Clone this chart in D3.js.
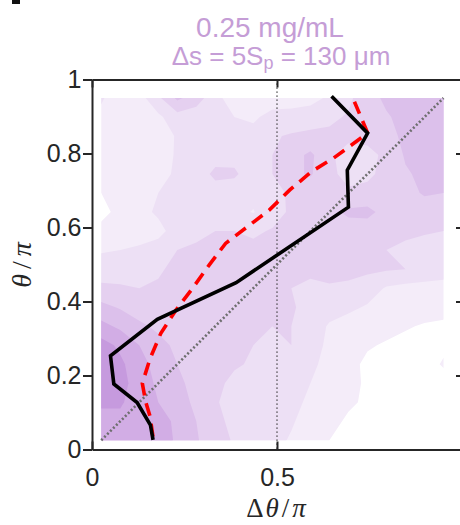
<!DOCTYPE html>
<html><head><meta charset="utf-8">
<script src="https://cdn.jsdelivr.net/npm/d3@7"></script>
<style>html,body{margin:0;padding:0;background:#fff}svg{display:block}</style>
</head><body>
<svg id="chart" width="460" height="525"></svg>
<script>
// ---------------- data ----------------
const xTicks = [0, 0.5, 1];
const xTickLabels = ["0", "0.5", ""];
const yTicks = [0, 0.2, 0.4, 0.6, 0.8, 1];
const yTickLabels = ["0", "0.2", "0.4", "0.6", "0.8", "1"];

// density grid (rows top -> bottom, y = 0.95 ... 0.025; cols x = 0.025 ... 0.95)
const gridExtent = [0.025, 0.95];
const densityRows = [
  [2.1,1.5,1.6,2.8,4.2,3.5,2.3,1.5,1.3,1.7,1.5,1.6,2.2,2.8,3.6,4.2,4.4,4.5,4.5],
  [1.8,1.3,1.4,1.8,2.6,2.4,2.1,2.0,1.9,2.2,2.4,2.6,2.8,3.1,3.4,3.9,4.3,4.5,4.5],
  [1.5,1.2,1.3,1.5,2.1,2.2,2.2,2.1,2.2,2.9,3.1,3.2,3.2,3.3,3.4,3.7,4.2,4.5,4.4],
  [1.4,1.2,1.3,1.6,2.1,2.2,2.5,2.6,2.2,3.0,3.6,4.2,3.2,2.5,2.6,3.3,4.1,4.4,4.3],
  [1.3,1.2,1.4,1.8,2.1,2.3,3.3,3.2,2.3,3.0,3.8,4.1,3.3,2.6,2.8,3.3,3.9,4.2,4.1],
  [1.0,1.3,1.7,2.0,2.2,2.3,2.4,2.3,2.2,2.6,3.2,3.4,3.3,3.2,3.3,3.4,3.7,4.1,4.0],
  [0.6,1.4,1.8,2.1,2.3,2.4,2.3,2.2,1.96,2.5,3.2,3.3,3.7,4.2,4.3,3.6,3.4,3.5,3.4],
  [1.4,1.5,1.7,1.8,2.3,2.7,3.0,3.0,2.8,3.1,3.2,3.3,3.4,3.5,3.4,3.3,3.2,3.1,3.0],
  [1.9,2.0,2.1,2.3,3.0,3.2,3.3,3.3,3.3,3.3,3.2,3.3,3.3,3.2,3.1,3.0,2.8,2.6,2.4],
  [2.5,2.6,2.7,2.9,3.2,3.3,3.3,3.3,3.2,3.1,3.0,3.2,3.3,3.3,3.2,3.1,3.0,2.8,2.5],
  [3.2,3.1,3.0,3.1,3.2,3.3,3.3,3.3,3.2,3.1,3.0,2.8,2.9,2.8,2.5,1.9,1.7,1.6,1.6],
  [4.3,3.9,3.5,3.4,3.3,3.3,3.3,3.2,3.1,3.0,3.1,2.7,2.4,2.2,1.9,1.6,1.5,1.5,1.4],
  [5.3,4.8,4.2,3.8,3.6,3.4,3.3,3.1,3.0,3.0,3.0,2.5,1.9,1.6,1.4,1.3,1.1,0.9,0.8],
  [6.4,5.8,5.0,4.3,3.8,3.5,3.3,3.1,3.0,2.9,3.0,2.4,1.8,1.4,1.1,0.9,0.7,0.6,0.9],
  [6.6,6.2,5.4,4.6,4.0,3.6,3.3,3.1,2.9,3.0,2.8,2.2,1.7,1.3,0.8,0.7,0.8,0.8,1.05],
  [6.6,6.3,5.6,4.8,4.2,3.7,3.2,2.8,2.5,2.7,2.5,2.0,1.6,1.2,0.9,0.8,0.9,0.9,0.8],
  [6.2,6.1,5.6,5.0,4.4,3.8,3.1,2.6,2.1,2.3,2.3,1.8,1.5,1.1,0.9,0.8,0.8,0.8,0.8],
  [5.6,5.8,5.8,5.6,4.7,4.0,3.3,2.7,2.2,2.2,2.1,1.6,1.2,0.9,0.7,0.6,0.5,0.5,0.5],
  [5.4,5.7,6.0,5.7,4.8,4.1,3.4,2.9,2.5,2.3,1.9,1.4,1.0,0.7,0.5,0.4,0.4,0.4,0.4]
];
const levels = [1, 2, 3, 4, 5, 6];
const levelColors = ["#f4ecf9", "#ede0f5", "#e5d0f0", "#dcc0eb", "#d2ade5", "#c69ade"];

// black solid curve
const meanX = [0.6475, 0.745, 0.690, 0.693, 0.3895, 0.1765, 0.050, 0.059, 0.122, 0.158, 0.165];
const meanY = [0.955, 0.855, 0.755, 0.655, 0.451, 0.352, 0.253, 0.177, 0.127, 0.066, 0.026];

// red dashed curve
const fitX = [0.703, 0.745, 0.652, 0.593, 0.534, 0.479, 0.420, 0.361, 0.317, 0.272, 0.227, 0.186, 0.157, 0.136, 0.145, 0.157, 0.166];
const fitY = [0.955, 0.855, 0.787, 0.751, 0.701, 0.647, 0.602, 0.557, 0.499, 0.436, 0.377, 0.314, 0.246, 0.179, 0.129, 0.089, 0.026];

// reference lines
const diagX = [0.025, 0.95];
const diagY = [0.025, 0.95];
const vlineX = 0.5;

const titleLine1 = "0.25 mg/mL";

// ---------------- drawing ----------------
const svg = d3.select("#chart");
const x = d3.scaleLinear().domain([0, 1]).range([92, 462]);
const y = d3.scaleLinear().domain([0, 1]).range([449.5, 79.5]);

const nCols = densityRows[0].length, nRows = densityRows.length;
const values = densityRows.flat();
const gx = d3.scaleLinear().domain([0.5, nCols - 0.5]).range([x(gridExtent[0]), x(gridExtent[1])]);
const gy = d3.scaleLinear().domain([0.5, nRows - 0.5]).range([y(gridExtent[1]), y(gridExtent[0])]);

svg.append("defs").append("clipPath").attr("id", "gclip")
  .append("rect")
  .attr("x", x(gridExtent[0])).attr("y", y(gridExtent[1]))
  .attr("width", x(gridExtent[1]) - x(gridExtent[0]))
  .attr("height", y(gridExtent[0]) - y(gridExtent[1]));

const contours = d3.contours().size([nCols, nRows]).thresholds(levels)(values);
const proj = d3.geoTransform({ point(px, py) { this.stream.point(gx(px), gy(py)); } });
const path = d3.geoPath(proj);

svg.append("g").attr("clip-path", "url(#gclip)")
  .selectAll("path").data(contours).join("path")
  .attr("d", path)
  .attr("fill", (d, i) => levelColors[i])
  .attr("stroke", "none");

// vertical dotted line at 0.5
svg.append("line")
  .attr("x1", x(vlineX)).attr("x2", x(vlineX))
  .attr("y1", y(1)).attr("y2", y(0))
  .attr("stroke", "#333").attr("stroke-width", 1.3)
  .attr("stroke-dasharray", "1.3,2.7");

// diagonal gray dotted
const line = d3.line().x(d => x(d[0])).y(d => y(d[1]));
svg.append("path")
  .attr("d", line(diagX.map((v, i) => [v, diagY[i]])))
  .attr("fill", "none").attr("stroke", "#6e6e6e").attr("stroke-width", 2.6)
  .attr("stroke-dasharray", "2,2.2");

// red dashed
svg.append("path")
  .attr("d", line(fitX.map((v, i) => [v, fitY[i]])))
  .attr("fill", "none").attr("stroke", "#ff0000").attr("stroke-width", 3.6)
  .attr("stroke-dasharray", "13,8").attr("stroke-dashoffset", -6);

// black solid
svg.append("path")
  .attr("d", line(meanX.map((v, i) => [v, meanY[i]])))
  .attr("fill", "none").attr("stroke", "#000").attr("stroke-width", 3.6)
  .attr("stroke-linejoin", "miter");

// axes
const axisColor = "#262626";
const fontTicks = "'Liberation Sans', Arial, Helvetica, sans-serif";
function styleAxis(g) {
  g.selectAll(".domain").attr("stroke", axisColor).attr("stroke-width", 2);
  g.selectAll(".tick line").attr("stroke", axisColor).attr("stroke-width", 2);
  g.selectAll(".tick text").attr("fill", "#262626").style("font-family", fontTicks).style("font-size", "25px");
}
svg.append("g").attr("transform", `translate(0,${y(0)})`)
  .call(d3.axisBottom(x).tickValues(xTicks).tickFormat((d, i) => xTickLabels[i])
    .tickSizeInner(-8).tickSizeOuter(0).tickPadding(18.5))
  .call(styleAxis);
svg.append("g").attr("transform", `translate(0,${y(1)})`)
  .call(d3.axisTop(x).tickValues(xTicks).tickFormat(() => "")
    .tickSizeInner(-8).tickSizeOuter(0))
  .call(styleAxis);
svg.append("g").attr("transform", `translate(${x(0)},0)`)
  .call(d3.axisLeft(y).tickValues(yTicks).tickFormat((d, i) => yTickLabels[i])
    .tickSizeInner(9).tickSizeOuter(0).tickPadding(1.5))
  .call(styleAxis);
svg.append("g").attr("transform", `translate(${x(1)},0)`)
  .call(d3.axisRight(y).tickValues(yTicks).tickFormat(() => "")
    .tickSizeInner(-6).tickSizeOuter(0))
  .call(styleAxis);
svg.selectAll(".domain").attr("fill", "none");

// axis labels
const serif = "'Liberation Serif', 'Times New Roman', 'DejaVu Serif', serif";
const xl = svg.append("text").attr("x", 276).attr("y", 517)
  .attr("text-anchor", "middle").attr("fill", "#262626")
  .style("font-family", serif).style("font-size", "27px");
xl.append("tspan").text("Δ");
xl.append("tspan").attr("dx", 2).style("font-style", "italic").text("θ");
xl.append("tspan").attr("dx", 3).text("/");
xl.append("tspan").attr("dx", 3).style("font-style", "italic").text("π");

const yl = svg.append("text").attr("transform", "translate(31,265) rotate(-90)")
  .attr("text-anchor", "middle").attr("fill", "#262626")
  .style("font-family", serif).style("font-size", "28px");
yl.append("tspan").style("font-style", "italic").text("θ");
yl.append("tspan").attr("dx", 5).text("/");
yl.append("tspan").attr("dx", 5).style("font-style", "italic").text("π");

// title
const titleColor = "#c59dd6";
svg.append("text").attr("x", 270).attr("y", 37).attr("text-anchor", "middle")
  .attr("fill", titleColor).style("font-family", fontTicks).style("font-size", "28px")
  .text(titleLine1);
const t2 = svg.append("text").attr("x", 281).attr("y", 65).attr("text-anchor", "middle")
  .attr("fill", titleColor).style("font-family", fontTicks).style("font-size", "26px");
t2.append("tspan").text("Δs = 5S");
t2.append("tspan").attr("dy", 4).style("font-size", "18px").text("p");
t2.append("tspan").attr("dy", -4).text(" = 130 μm");

// fragment of panel letter at the top-left corner
svg.append("rect").attr("x", 12).attr("y", 0).attr("width", 8).attr("height", 4).attr("fill", "#111");
</script>
</body></html>
